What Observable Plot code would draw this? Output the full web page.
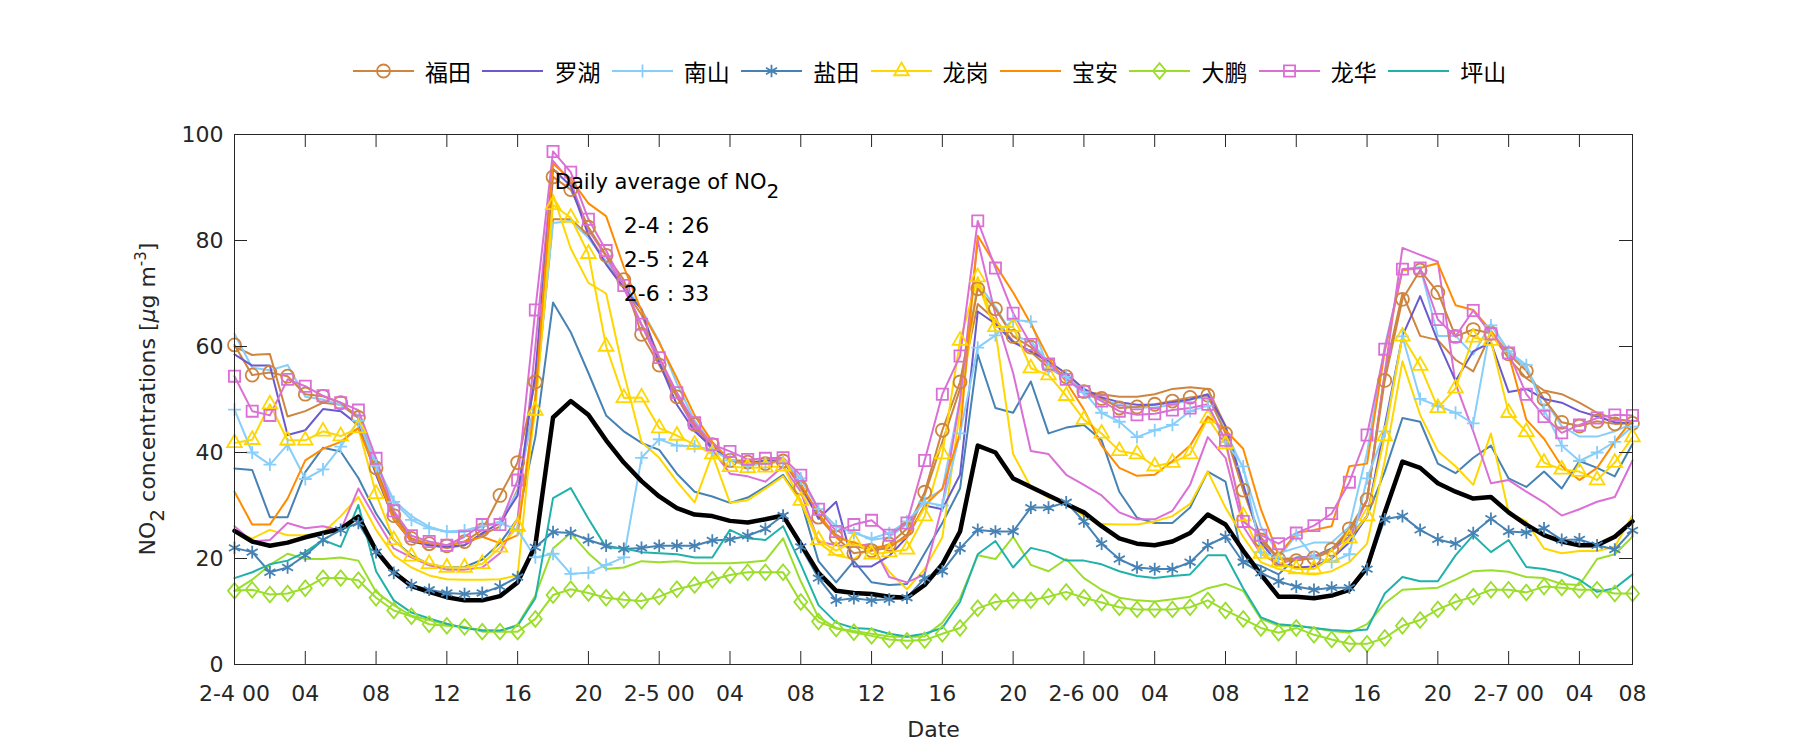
<!DOCTYPE html>
<html><head><meta charset="utf-8">
<script src="https://cdn.jsdelivr.net/npm/d3@7"></script>
<script src="https://cdn.jsdelivr.net/npm/@observablehq/plot@0.6"></script>
<style>
body{margin:0;background:#fff;}
#wrap{position:relative;width:1800px;height:750px;overflow:hidden;background:#fff;}
#chart{position:absolute;left:0;top:0;}
.item{position:absolute;top:57px;height:28px;display:flex;align-items:center;}
.item span{font-family:"Noto Sans CJK SC",sans-serif;font-size:23px;color:#000;margin-left:11px;line-height:28px;}
</style></head><body>
<div id="wrap"><div id="chart"></div><div id="legend"></div></div>
<script>
// ---- data (hourly, 2-4 00 .. 2-7 07) ----
const districts = ["福田","罗湖","南山","盐田","龙岗","宝安","大鹏","龙华","坪山"];
const xTickVals = [0,4,8,12,16,20,24,28,32,36,40,44,48,52,56,60,64,68,72,76,79];
const xTickLabels = ["2-4 00","04","08","12","16","20","2-5 00","04","08","12","16","20","2-6 00","04","08","12","16","20","2-7 00","04","08"];
const yTickVals = [0,20,40,60,80,100];
const dailyDates = ["2-4","2-5","2-6"];
const dailyAvg = [26,24,33];

const futian = [60.3,54.6,55.1,54.4,51.0,50.6,49.4,46.6,37.1,28.1,
 23.8,22.8,22.4,23.2,25.4,31.9,38.1,53.3,92.0,89.6,
 82.5,77.2,72.6,62.3,56.5,50.5,45.3,41.5,38.5,38.2,
 37.9,38.4,33.3,27.8,24.0,21.0,21.5,22.7,25.6,32.5,
 44.2,53.3,70.9,67.1,61.9,59.9,56.5,54.3,51.5,50.2,
 48.4,48.6,49.1,49.7,50.4,50.8,43.6,32.9,23.5,19.9,
 19.6,20.1,21.7,25.6,31.1,53.6,68.9,74.4,70.2,61.9,
 63.2,62.5,58.6,55.4,50.1,45.7,45.0,45.9,45.4,45.5];
const futianB = [60.0,58.4,58.6,46.8,47.8,49.4,49.0,46.5,37.0,28.7,
 23.5,22.5,22.0,22.5,24.5,26.0,33.0,50.0,84.0,84.0,
 81.0,76.0,71.0,66.0,58.0,51.0,45.0,41.0,38.5,38.5,
 38.0,38.5,34.0,28.0,24.5,22.5,21.5,22.0,24.5,32.0,
 42.0,52.0,68.0,65.0,61.0,59.0,56.0,54.0,51.5,51.0,
 50.5,50.5,51.0,52.0,52.3,52.0,45.0,33.0,24.0,20.0,
 20.0,20.0,21.5,25.0,31.0,55.0,70.0,62.0,61.2,57.5,
 55.3,62.4,57.8,54.0,51.7,51.0,49.4,47.5,46.3,45.9];
const luohu = [58.5,56.4,56.4,43.3,44.2,48.2,47.8,45.2,35.8,27.4,
 23.2,22.5,22.2,22.5,24.8,26.7,31.9,55.0,93.5,90.3,
 81.0,75.5,71.0,67.0,57.0,49.0,44.0,41.0,38.5,38.0,
 38.5,38.5,34.0,27.5,30.7,18.5,18.5,20.5,24.0,30.0,
 29.3,35.8,66.6,64.3,60.8,59.1,57.2,54.9,52.0,50.4,
 49.5,49.0,49.0,49.5,50.0,51.0,45.0,34.0,23.0,19.0,
 18.3,18.5,20.0,23.0,28.0,45.0,62.0,69.5,61.0,53.5,
 59.1,60.8,51.4,52.0,50.1,49.4,47.8,46.8,45.7,45.5];
const nanshan = [48.1,40.0,37.7,41.5,35.0,36.8,41.1,46.0,37.5,30.7,
 27.3,25.7,25.1,25.3,26.2,26.7,25.4,20.2,20.9,17.1,
 17.3,18.8,20.2,39.0,42.5,41.3,41.2,40.5,38.5,37.5,
 38.0,38.3,35.1,29.3,26.1,24.8,23.8,24.8,27.0,30.6,
 30.0,43.6,59.8,62.1,65.0,64.7,55.9,54.3,51.4,47.5,
 45.8,42.9,44.2,45.2,47.8,48.8,42.0,37.4,21.2,20.2,
 24.4,20.2,19.3,20.8,35.1,44.0,61.9,50.1,48.8,47.5,
 45.5,64.0,59.1,56.5,48.1,41.3,38.4,40.0,42.0,44.9];
const nanshanB = [62.4,56.0,55.5,56.5,50.5,50.0,49.0,47.0,38.0,31.0,
 28.0,26.0,25.0,25.0,26.0,27.0,32.6,50.0,83.3,83.7,
 80.5,76.0,72.0,67.0,61.0,53.0,46.0,41.5,38.5,38.0,
 38.5,38.5,35.0,29.5,26.0,25.0,23.5,24.0,26.5,31.0,
 33.0,50.0,72.0,67.5,62.0,61.0,57.0,54.0,51.0,50.0,
 49.0,48.5,48.5,49.0,50.0,50.5,44.0,37.0,26.0,21.0,
 22.0,23.0,23.0,26.0,40.0,60.0,74.5,75.0,62.0,62.0,
 58.5,64.3,59.1,55.9,50.0,45.0,43.0,43.0,44.0,45.5];
const yantian = [22.0,21.2,17.4,18.3,20.6,23.5,25.4,26.7,21.2,17.3,
 15.0,14.1,13.5,13.3,13.5,14.7,16.5,22.1,25.0,24.8,
 23.5,22.4,21.8,22.0,22.4,22.4,22.4,23.4,23.6,24.3,
 25.6,28.1,22.2,16.3,12.1,12.5,12.1,12.3,12.6,16.3,
 17.6,21.9,25.4,25.1,25.1,29.6,29.6,30.6,27.0,22.8,
 19.9,18.3,18.0,18.0,19.3,22.5,24.1,19.3,17.3,15.7,
 14.7,14.1,14.5,14.5,18.0,27.4,28.0,25.4,23.6,22.8,
 24.8,27.5,25.1,24.9,25.7,23.5,23.6,22.5,21.7,25.3];
const yantianB = [37.0,36.7,27.8,27.8,36.3,40.9,40.2,35.2,28.5,23.5,
 20.6,18.9,18.3,18.4,19.8,22.9,27.5,42.9,68.3,62.7,
 55.0,47.0,44.0,41.8,40.5,36.0,32.6,31.7,30.5,31.5,
 33.5,35.8,30.9,19.5,15.5,19.5,15.5,15.0,15.2,21.0,
 26.7,33.2,58.5,48.4,47.5,53.4,43.6,44.7,45.2,42.3,
 32.6,27.7,26.7,26.7,29.6,36.4,34.5,19.6,18.6,17.0,
 20.2,20.4,21.9,24.1,28.0,36.4,46.5,45.8,37.9,36.1,
 39.0,41.3,35.1,33.5,36.4,33.2,38.4,37.1,35.5,41.6];
const longgang = [41.8,42.4,49.1,42.3,42.3,44.0,43.1,44.6,32.2,23.5,
 20.4,19.0,18.3,18.3,19.0,22.1,26.0,47.9,86.7,84.3,
 77.5,60.0,50.3,50.4,44.6,43.2,41.5,39.7,37.3,37.1,
 37.2,37.4,30.9,23.5,21.5,23.3,20.8,21.2,21.7,28.0,
 39.7,61.1,73.1,63.7,63.7,55.9,54.6,50.7,46.2,43.6,
 40.3,39.7,37.4,38.1,39.7,46.5,41.6,28.0,20.9,19.3,
 18.0,18.0,20.2,23.8,28.0,43.1,61.9,56.4,48.4,52.1,
 61.7,61.1,47.5,43.9,38.1,36.8,36.4,34.8,38.1,42.9];
const longgangB = [25.1,23.8,25.4,24.4,24.4,24.8,28.0,31.6,25.4,20.6,
 18.3,16.8,16.1,16.0,16.0,16.1,16.8,50.0,88.6,78.5,
 72.0,70.0,55.0,42.0,39.0,34.5,30.6,39.7,30.5,31.0,
 33.2,35.5,30.6,23.0,20.6,19.9,22.2,17.5,14.2,18.0,
 24.0,48.0,72.0,63.0,39.7,33.5,31.5,30.5,28.0,26.5,
 26.4,26.4,27.0,28.0,30.3,36.4,29.6,24.1,19.3,18.0,
 17.3,17.0,17.6,19.3,22.8,38.4,57.2,47.1,40.3,37.4,
 33.9,43.6,28.7,27.0,21.9,21.0,21.4,21.4,22.2,28.1];
const baoan = [32.6,26.4,26.4,31.3,38.5,40.7,42.0,44.6,36.4,27.4,
 23.3,22.9,22.5,23.1,24.1,22.9,24.4,50.0,94.5,91.6,
 87.0,84.6,75.0,66.7,60.7,54.0,47.0,42.0,38.5,38.0,
 38.0,38.5,34.0,28.5,24.0,23.0,22.0,22.5,24.0,30.0,
 33.2,43.6,80.9,75.4,70.2,64.3,57.8,53.3,48.1,41.3,
 37.1,35.6,35.8,38.4,41.3,46.8,44.2,40.7,29.3,20.6,
 24.8,25.4,26.1,37.4,37.9,59.1,74.4,74.8,75.7,67.8,
 66.9,63.0,58.5,46.2,42.6,37.4,34.8,37.1,42.0,46.2];
const dapeng = [13.9,14.1,13.2,13.4,14.4,16.3,16.3,15.9,12.6,10.2,
 9.1,7.6,7.3,7.1,6.2,6.2,6.2,8.6,13.1,14.2,
 13.5,12.6,12.2,12.0,12.8,14.2,15.0,16.0,16.9,17.4,
 17.4,17.4,11.8,8.1,6.8,6.1,5.4,4.7,4.5,4.6,
 5.8,6.9,10.6,11.8,12.1,12.1,12.8,13.7,12.6,11.7,
 10.8,10.4,10.4,10.4,10.8,12.1,10.2,8.6,6.9,6.0,
 6.9,5.6,4.7,3.9,3.9,5.0,7.3,8.4,10.4,11.8,
 12.8,14.1,14.1,13.6,14.7,14.5,14.1,14.1,13.4,13.4];
const dapengB = [13.9,16.0,18.8,20.9,19.9,19.9,20.2,19.6,13.7,11.2,
 9.2,8.4,7.5,7.0,6.5,6.3,7.5,13.0,21.9,24.8,
 21.0,18.0,18.3,19.5,19.3,19.5,19.1,19.1,19.1,19.3,
 19.6,23.8,15.7,8.9,6.9,6.3,5.8,5.3,5.2,5.3,
 7.9,12.5,20.6,19.9,24.1,18.8,17.6,19.9,16.3,14.1,
 12.6,12.1,11.9,12.3,12.8,14.4,15.2,13.9,8.6,7.3,
 7.3,6.9,6.3,6.0,7.6,11.5,14.1,14.3,14.5,16.0,
 17.6,17.8,17.5,16.5,16.3,15.2,15.0,19.9,20.8,24.1];
const longhua = [54.4,47.8,47.0,53.8,52.5,50.7,49.4,48.0,38.9,29.0,
 24.3,23.2,22.5,24.1,26.4,26.4,34.8,66.9,96.8,92.9,
 84.0,78.1,71.5,64.2,57.9,51.3,45.6,41.5,40.2,38.7,
 38.9,39.0,35.7,29.3,25.1,26.4,27.2,24.4,26.7,38.5,
 51.0,58.2,83.7,74.8,66.3,60.4,56.7,53.8,51.5,49.7,
 47.8,47.1,47.3,48.0,48.4,49.1,42.3,27.0,24.4,22.8,
 24.8,26.2,28.5,34.4,43.3,59.5,74.6,74.8,65.1,61.9,
 66.8,62.4,58.8,51.0,46.8,43.7,45.2,46.5,47.1,47.0];
const longhuaB = [26.1,23.2,23.5,26.7,25.7,26.1,25.3,33.2,27.4,21.9,
 20.2,18.7,17.9,17.9,18.3,21.0,27.5,60.0,95.0,91.0,
 82.0,77.0,71.0,64.0,57.0,50.5,44.5,40.5,36.0,35.5,
 34.5,37.4,32.6,23.2,22.5,22.2,22.8,16.5,15.5,17.0,
 30.0,50.0,80.0,66.0,55.0,40.3,39.7,35.8,33.9,31.9,
 28.7,27.4,27.4,29.0,33.9,42.9,39.0,26.1,20.9,18.9,
 20.0,20.5,21.5,24.0,31.0,55.0,78.6,77.3,76.0,53.0,
 44.0,34.2,34.8,32.6,30.6,28.1,29.3,30.7,31.6,38.5];
const pingshan = [16.3,17.4,18.9,19.6,21.2,23.5,22.2,30.1,17.6,12.1,
 9.8,8.7,7.7,6.9,6.4,6.4,7.3,12.5,31.4,33.3,
 27.5,22.1,21.9,21.2,21.0,20.8,20.2,20.2,25.4,23.8,
 23.5,26.1,18.9,11.2,7.9,6.9,6.7,5.8,5.3,5.8,
 6.9,11.8,20.8,23.3,18.3,22.0,21.2,19.6,19.6,18.9,
 17.6,16.7,16.3,16.7,17.0,20.6,20.6,14.4,8.9,7.6,
 7.3,6.9,6.5,6.3,6.6,13.4,16.5,15.7,15.7,20.6,
 24.4,21.2,23.5,18.4,18.0,17.3,16.0,13.7,14.4,17.0];
const meanNO2 = [25.2,23.2,22.4,23.0,24.0,24.8,25.6,27.9,21.5,17.4,
 14.8,13.7,12.7,12.1,12.1,12.9,15.5,22.5,46.6,49.7,
 47.1,42.3,38.1,34.6,31.7,29.5,28.3,28.0,27.1,26.8,
 27.4,28.1,22.7,17.3,13.9,13.5,13.3,12.8,12.6,15.0,
 18.9,25.1,41.3,40.0,35.1,33.5,31.9,30.3,28.7,26.1,
 23.8,22.8,22.5,23.2,24.8,28.3,26.4,21.5,17.0,12.8,
 12.8,12.5,13.0,14.1,18.3,28.7,38.3,37.1,34.2,32.6,
 31.3,31.6,28.7,26.4,24.4,23.2,22.5,22.5,24.1,27.0];

// ---- styles ----
const rhombus = {draw(ctx, size){ const r = Math.sqrt(size/Math.PI); ctx.moveTo(0,-r*1.2); ctx.lineTo(r,0); ctx.lineTo(0,r*1.2); ctx.lineTo(-r,0); ctx.closePath(); }};
const styles = [
  {color:"#CD853F", symbol:"circle", r:6.5},
  {color:"#6A5ACD", symbol:null},
  {color:"#87CEFA", symbol:"plus", r:4.2},
  {color:"#4682B4", symbol:"asterisk", r:6},
  {color:"#FFD700", symbol:"triangle2", r:7},
  {color:"#FF8C00", symbol:null},
  {color:"#9ADE2A", symbol:rhombus, r:6.5},
  {color:"#DA70D6", symbol:"square", r:6.3},
  {color:"#20B2AA", symbol:null}
];
const mains = [futian, luohu, nanshan, yantian, longgang, baoan, dapeng, longhua, pingshan];
const twins = [[futianB,0],[nanshanB,2],[yantianB,3],[longgangB,4],[dapengB,6],[longhuaB,7]];

const pts = arr => arr.map((v,i)=>({h:i, v}));
const marks = [];
twins.forEach(([arr,k]) => marks.push(Plot.line(pts(arr), {x:"h", y:"v", stroke:styles[k].color, strokeWidth:2})));
mains.forEach((arr,k) => marks.push(Plot.line(pts(arr), {x:"h", y:"v", stroke:styles[k].color, strokeWidth:2})));
marks.push(Plot.line(pts(meanNO2), {x:"h", y:"v", stroke:"#000", strokeWidth:4.5}));
mains.forEach((arr,k) => { const s = styles[k]; if (s.symbol) marks.push(Plot.dot(pts(arr), {x:"h", y:"v", symbol:s.symbol, r:s.r, stroke:s.color, fill:"none", strokeWidth:1.8})); });

const W = 1800, H = 750, mL = 234, mR = 168, mT = 134, mB = 86;
const innerW = W - mL - mR, innerH = H - mT - mB, tick = 13;
const labelMap = new Map(xTickVals.map((v,i)=>[v, xTickLabels[i]]));

marks.push(
  Plot.frame({stroke:"#262626", strokeWidth:1}),
  Plot.ruleX(xTickVals, {x:d=>d, y1:100, y2:0, insetTop: innerH - tick, stroke:"#262626"}),
  Plot.ruleX(xTickVals, {x:d=>d, y1:100, y2:0, insetBottom: innerH - tick, stroke:"#262626"}),
  Plot.ruleY(yTickVals, {y:d=>d, x1:0, x2:79, insetRight: innerW - tick, stroke:"#262626"}),
  Plot.ruleY(yTickVals, {y:d=>d, x1:0, x2:79, insetLeft: innerW - tick, stroke:"#262626"}),
  Plot.axisX({ticks: xTickVals, tickFormat: d => labelMap.get(d), tickSize:0, tickPadding:21, fontSize:22, label:null, fill:"#262626"}),
  Plot.axisY({ticks: yTickVals, tickSize:0, tickPadding:11, fontSize:22, label:null, fill:"#262626"}),
  Plot.text(["Date"], {frameAnchor:"bottom", dy:72, fontSize:22, fill:"#262626"}),
  Plot.text(["Daily average of NO"], {x:18.1, y:90.9, textAnchor:"start", fontSize:21, fill:"#000"}),
  Plot.text([dailyDates.map((d,i)=>`${d} : ${dailyAvg[i]}`).join("\n")], {x:22.0, y:77.0, textAnchor:"start", fontSize:22, lineHeight:1.55, fill:"#000"})
);

const svg = Plot.plot({
  width: W, height: H, marginLeft: mL, marginRight: mR, marginTop: mT, marginBottom: mB,
  x: {domain:[0,79]}, y: {domain:[0,100]},
  style: {fontFamily:"DejaVu Sans, sans-serif", fontSize:"22px", background:"white", color:"#262626"},
  marks
});
// subscript for NO2 in annotation
d3.select(svg).selectAll("text").each(function(){
  if (this.textContent === "Daily average of NO") {
    d3.select(this).append("tspan").attr("dy","0.45em").attr("font-size","20px").text("2");
  }
});
// y-axis title
const yt = d3.select(svg).append("text")
  .attr("transform", `translate(147,${mT + innerH/2}) rotate(-90)`)
  .attr("text-anchor","middle").attr("dy","0.35em")
  .attr("font-family","DejaVu Sans, sans-serif").attr("font-size","22px").attr("fill","#262626");
yt.append("tspan").text("NO");
yt.append("tspan").attr("dy","9").attr("font-size","20px").text("2");
yt.append("tspan").attr("dy","-9").text(" concentrations [");
yt.append("tspan").attr("font-style","italic").text("\u03BC");
yt.append("tspan").text("g m");
yt.append("tspan").attr("dy","-9").attr("font-size","15px").text("-3");
yt.append("tspan").attr("dy","9").text("]");

document.getElementById("chart").append(svg);

// legend
const symMap = {circle:d3.symbolCircle, plus:d3.symbolPlus, asterisk:d3.symbolAsterisk, triangle2:d3.symbolTriangle2, square:d3.symbolSquare};
const legend = document.getElementById("legend");
districts.forEach((name,i) => {
  const s = styles[i];
  const item = document.createElement("div");
  item.className = "item"; item.style.left = (353 + i*129.4) + "px";
  const ls = d3.create("svg").attr("width",61).attr("height",28);
  ls.append("line").attr("x1",0).attr("x2",61).attr("y1",14).attr("y2",14).attr("stroke",s.color).attr("stroke-width",2);
  if (s.symbol) {
    const t = typeof s.symbol === "string" ? symMap[s.symbol] : s.symbol;
    ls.append("path").attr("transform","translate(30.5,14)").attr("d", d3.symbol(t, Math.PI*s.r*s.r)())
      .attr("fill","none").attr("stroke",s.color).attr("stroke-width",1.8);
  }
  item.append(ls.node());
  const sp = document.createElement("span"); sp.textContent = name; item.append(sp);
  legend.append(item);
});
</script>
</body></html>
